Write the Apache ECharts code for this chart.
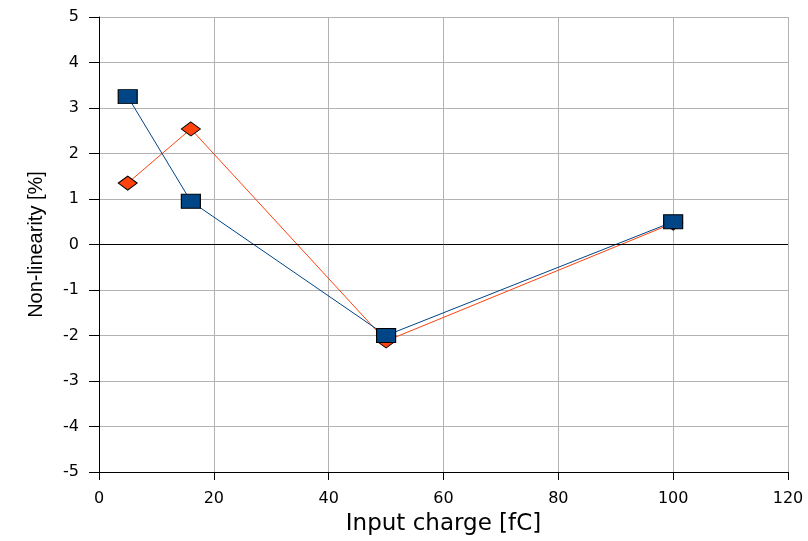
<!DOCTYPE html>
<html><head><meta charset="utf-8">
<script src="https://cdn.jsdelivr.net/npm/echarts@6/dist/echarts.min.js"></script>
<style>html,body{margin:0;padding:0;background:#fff}#c{width:808px;height:541px}</style>
</head><body><div id="c"></div>
<script>
const xValues = [5, 16, 50, 100];
const blueValues = [3.25, 0.95, -2.0, 0.5];
const orangeValues = [1.35, 2.54, -2.12, 0.47];
const xTitle = 'Input charge [fC]';
const yTitle = 'Non-linearity [%]';

const pair = (ys) => xValues.map((x, i) => [x, ys[i]]);
const wide = 'DejaVu Sans, Verdana, sans-serif';
const narrow = 'Liberation Sans, Arial, sans-serif';
const chart = echarts.init(document.getElementById('c'), null, {renderer: 'canvas'});
chart.setOption({
  animation: false,
  backgroundColor: '#fff',
  grid: {left: 99, right: 20, top: 17, bottom: 66, containLabel: false},
  xAxis: {
    type: 'value', min: 0, max: 120, interval: 20,
    name: xTitle, nameLocation: 'middle', nameGap: 41,
    nameTextStyle: {fontFamily: wide, fontSize: 23, color: '#000'},
    axisLine: {show: true, onZero: false, lineStyle: {color: '#000', width: 1}},
    axisTick: {show: true, length: 8, lineStyle: {color: '#000'}},
    axisLabel: {fontFamily: wide, fontSize: 16, color: '#000', margin: 19},
    splitLine: {show: true, lineStyle: {color: '#b3b3b3', width: 1}}
  },
  yAxis: {
    type: 'value', min: -5, max: 5, interval: 1,
    name: yTitle, nameLocation: 'middle', nameGap: 53, nameRotate: 90,
    nameTextStyle: {fontFamily: narrow, fontSize: 20, color: '#000'},
    axisLine: {show: true, onZero: false, lineStyle: {color: '#000', width: 1}},
    axisTick: {show: true, length: 10, lineStyle: {color: '#000'}},
    axisLabel: {fontFamily: wide, fontSize: 16, color: '#000', margin: 20},
    splitLine: {show: true, lineStyle: {color: '#b3b3b3', width: 1}}
  },
  series: [
    {
      type: 'line', data: pair(orangeValues), z: 2,
      symbol: 'diamond', symbolSize: [19, 14],
      lineStyle: {color: '#ff420e', width: 1},
      itemStyle: {color: '#ff420e', borderColor: '#000', borderWidth: 1, opacity: 1},
      markLine: {
        silent: true, symbol: ['none', 'none'], label: {show: false},
        lineStyle: {color: '#000', width: 1, type: 'solid'},
        data: [{yAxis: 0}]
      }
    },
    {
      type: 'line', data: pair(blueValues), z: 3,
      symbol: 'rect', symbolSize: [19, 14],
      lineStyle: {color: '#004586', width: 1},
      itemStyle: {color: '#004586', borderColor: '#000', borderWidth: 1, opacity: 1}
    }
  ]
});
</script></body></html>
